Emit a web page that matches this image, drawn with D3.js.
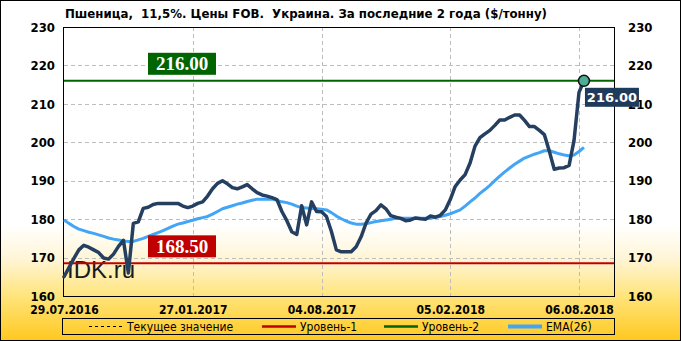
<!DOCTYPE html>
<html>
<head>
<meta charset="utf-8">
<script src="https://cdn.jsdelivr.net/npm/d3@7"></script>
<style>
body{margin:0;background:#fff;}
svg{display:block;}
</style>
</head>
<body>
<svg id="chart" width="681" height="341"></svg>
<script>
//data
var tickLabels=["29.07.2016","27.01.2017","04.08.2017","05.02.2018","06.08.2018"];
var tickIndex=[0,26,52,78,104];
var yTicks=[160,170,180,190,200,210,220,230];
var price=[165,167.4,169.8,172,173.2,172.7,172,171.3,169.9,169.6,
	170.9,172.9,174.5,166,178.9,179.3,182.8,183.1,183.8,184.1,
	184.1,184.1,184.1,184.1,183.4,183,183.4,184.1,184.5,186,
	187.9,189.3,190,189.2,188.2,187.9,188.4,189,187.9,186.9,
	186.3,186,185.6,185.1,182,179.6,176.7,176,183.5,178.5,
	184.5,182,181.9,180.7,176.8,172,171.5,171.5,171.5,172.8,
	175.4,179,181.3,182.2,183.7,182.7,180.9,180.5,180.2,179.6,
	179.8,180.3,180.1,180,180.8,180.5,181,182.4,185.1,188.5,
	190.2,191.6,194.6,199,201.2,202.2,203.1,204.4,205.8,205.8,
	206.5,207.1,207.1,205.7,204.1,204.1,203.1,202,197.7,193,
	193.3,193.4,194,200.5,213,216];
var ema=[179.8,178.9,178.1,177.4,177,176.6,176.3,175.9,175.5,175.1,
	174.8,174.6,174.3,174.2,174.2,174.6,175,175.5,176,176.5,
	177,177.6,178.2,178.7,179,179.4,179.7,180.1,180.4,180.7,
	181.3,182,182.7,183.1,183.5,183.9,184.2,184.6,184.9,185.2,
	185.2,185.2,185.2,184.9,184.5,184.3,183.9,183.4,183,182.9,
	182.8,182.7,182.6,182.4,181.7,180.8,180.1,179.5,179,178.7,
	178.7,178.8,179.1,179.4,179.6,179.8,180,180.2,180.2,180.2,
	180.2,180.2,180.2,180.2,180.2,180.5,180.7,181,181.4,181.9,
	182.4,183.4,184.5,185.5,186.7,187.7,188.8,190,191.2,192.3,
	193.3,194.3,195.1,195.9,196.4,196.9,197.3,197.8,197.8,197.4,
	197,196.7,196.5,196.7,197.6,198.7];
var level1=168.5;
var level2=216;
var legendItems=[
	{name:"Текущее значение",x:89,color:"#000",width:1,dash:"3,3"},
	{name:"Уровень-1",x:262,color:"#c00000",width:2.5,dash:null},
	{name:"Уровень-2",x:384,color:"#006400",width:2.5,dash:null},
	{name:"EMA(26)",x:508,color:"#42a5f5",width:4,dash:null}
];

var svg=d3.select("#chart");
var plotL=64,plotR=614,plotT=27,plotB=296;
var font="'DejaVu Sans Condensed','DejaVu Sans',sans-serif";

//background gradient
var defs=svg.append("defs");
var grad=defs.append("linearGradient").attr("id","bg").attr("x1",0).attr("y1",0).attr("x2",0).attr("y2",1);
grad.append("stop").attr("offset",0.66).attr("stop-color","#ffffff");
grad.append("stop").attr("offset",0.76).attr("stop-color","#fff5d6");
grad.append("stop").attr("offset",0.87).attr("stop-color","#ffe47a");
grad.append("stop").attr("offset",1).attr("stop-color","#ffc81e");
svg.append("rect").attr("x",0).attr("y",0).attr("width",681).attr("height",341).attr("fill","url(#bg)");

//scales
var x=d3.scaleLinear().domain([0,104]).range([plotL,579]);
var y=d3.scaleLinear().domain([160,230]).range([plotB,plotT]);

//grid
svg.append("g").selectAll("line").data(yTicks.slice(1,-1)).enter().append("line")
	.attr("x1",plotL).attr("x2",plotR)
	.attr("y1",function(d){return Math.round(y(d))+0.5;}).attr("y2",function(d){return Math.round(y(d))+0.5;})
	.attr("stroke","#bdbdbd").attr("stroke-dasharray","4,3");
svg.append("g").selectAll("line").data(tickIndex.slice(1)).enter().append("line")
	.attr("y1",plotT).attr("y2",plotB)
	.attr("x1",function(d){return Math.round(x(d))+0.5;}).attr("x2",function(d){return Math.round(x(d))+0.5;})
	.attr("stroke","#bdbdbd").attr("stroke-dasharray","4,3");

//axes
var yLeft=svg.append("g").attr("transform","translate("+plotL+",0)")
	.call(d3.axisLeft(y).tickValues(yTicks).tickSize(0).tickPadding(9));
var yRight=svg.append("g").attr("transform","translate("+plotR+",0)")
	.call(d3.axisRight(y).tickValues(yTicks).tickSize(0).tickPadding(14));
var xAxis=svg.append("g").attr("transform","translate(0,"+plotB+")")
	.call(d3.axisBottom(x).tickValues(tickIndex).tickSize(0).tickPadding(9)
		.tickFormat(function(d,i){return tickLabels[i];}));
[yLeft,yRight,xAxis].forEach(function(a){
	a.select(".domain").remove();
	a.selectAll("text").attr("font-family",font).attr("font-weight","bold").attr("font-size",13).attr("fill","#000");
});
xAxis.selectAll("text").attr("font-size",12);

//frame
svg.append("rect").attr("x",plotL-0.5).attr("y",plotT+0.5).attr("width",plotR-plotL+1).attr("height",plotB-plotT)
	.attr("fill","none").attr("stroke","#000");

//watermark
svg.append("text").attr("x",67).attr("y",278).text("IDK.ru")
	.attr("font-family","'Liberation Sans',Arial,sans-serif").attr("font-size",24).attr("fill","#1a1a1a");

//levels
svg.append("line").attr("x1",plotL).attr("x2",plotR).attr("y1",y(level1)).attr("y2",y(level1))
	.attr("stroke","#c00000").attr("stroke-width",2);
svg.append("line").attr("x1",plotL).attr("x2",plotR).attr("y1",y(level2)).attr("y2",y(level2))
	.attr("stroke","#006400").attr("stroke-width",2);

//lines
var line=d3.line().x(function(d,i){return x(i);}).y(function(d){return y(d);});
svg.append("path").datum(ema).attr("d",line).attr("fill","none")
	.attr("stroke","#42a5f5").attr("stroke-width",3).attr("stroke-linejoin","round");
svg.append("path").datum(price).attr("d",line).attr("fill","none")
	.attr("stroke","#243f60").attr("stroke-width",3.5).attr("stroke-linejoin","round").attr("stroke-linecap","round");

//level labels
function levelBox(val,color){
	var g=svg.append("g");
	g.append("rect").attr("x",148).attr("y",y(val)-28).attr("width",68).attr("height",22).attr("fill",color);
	g.append("text").attr("x",182).attr("y",y(val)-10.5).attr("text-anchor","middle").text(val.toFixed(2))
		.attr("font-family","'Liberation Serif','Times New Roman',serif").attr("font-weight","bold")
		.attr("font-size",19).attr("fill","#fff");
}
levelBox(level2,"#006400");
levelBox(level1,"#c00000");

//current value
var last=price.length-1;
svg.append("circle").attr("cx",x(last)).attr("cy",y(price[last])).attr("r",5.5)
	.attr("fill","#4cae94").attr("stroke","#111").attr("stroke-width",1.5);
svg.append("rect").attr("x",x(last)+1).attr("y",y(price[last])+7).attr("width",54).attr("height",19).attr("fill","#1f3b5c");
svg.append("text").attr("x",x(last)+28).attr("y",y(price[last])+21.5).attr("text-anchor","middle")
	.text(price[last].toFixed(2)).attr("font-family","'DejaVu Sans',sans-serif").attr("font-weight","bold")
	.attr("font-size",13).attr("fill","#fff");

//title
svg.append("text").attr("x",65).attr("y",18).text("Пшеница,  11,5%. Цены FOB.  Украина. За последние 2 года ($/тонну)")
	.attr("font-family",font).attr("font-weight","bold").attr("font-size",13.1).attr("fill","#000")
	.style("white-space","pre");

//legend
svg.append("rect").attr("x",62.5).attr("y",318.5).attr("width",552).attr("height",16).attr("fill","none").attr("stroke","#000");
var lg=svg.append("g").selectAll("g").data(legendItems).enter().append("g");
lg.append("line").attr("x1",function(d){return d.x;}).attr("x2",function(d){return d.x+34;})
	.attr("y1",326.5).attr("y2",326.5)
	.attr("stroke",function(d){return d.color;}).attr("stroke-width",function(d){return d.width;})
	.attr("stroke-dasharray",function(d){return d.dash;});
lg.append("text").attr("x",function(d){return d.x+38;}).attr("y",331).text(function(d){return d.name;})
	.attr("font-family",font).attr("font-size",12).attr("fill","#000");

//outer border
svg.append("rect").attr("x",0.5).attr("y",0.5).attr("width",680).attr("height",340).attr("fill","none").attr("stroke","#000");
</script>
</body>
</html>
